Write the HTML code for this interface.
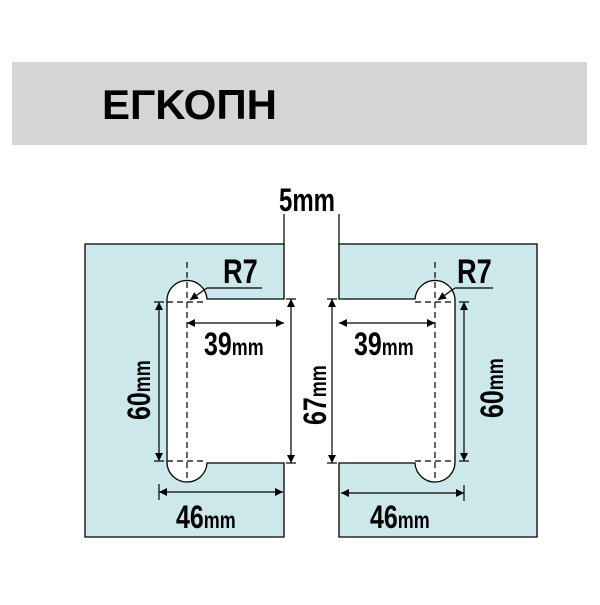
<!DOCTYPE html>
<html><head><meta charset="utf-8"><style>
body{margin:0;background:#fff}
svg text{font-family:"Liberation Sans",sans-serif;font-weight:bold;fill:#000}
</style></head><body>
<svg width="600" height="600" viewBox="0 0 600 600" xmlns="http://www.w3.org/2000/svg">
<defs>
<marker id="a" viewBox="0 0 10 10" refX="10" refY="5" markerWidth="12" markerHeight="8" orient="auto-start-reverse" markerUnits="userSpaceOnUse"><path d="M0,0 L10,5 L0,10z" fill="#000"/></marker>
</defs>
<rect x="12" y="62" width="575" height="83" fill="#d5d5d5"/>
<text x="102" y="119" font-size="42">ΕΓΚΟΠΗ</text>
<text x="0" y="0" font-size="32" transform="translate(279,211) scale(0.75,1)">5mm</text>
<g stroke="#000" stroke-width="1.3" fill="#cde8ea">
<path d="M85,244 H284 V299 H207 A20,20 0 0 0 167,302 V461 A20,20 0 0 0 207,463 H284 V537 H85 Z"/>
<path d="M537,244 H339 V299 H415 A20,20 0 0 1 455,302 V461 A20,20 0 0 1 415,463 H339 V537 H537 Z"/>
</g>
<g stroke="#000" stroke-width="1.2" fill="none">
<line x1="284" y1="214" x2="284" y2="244"/><line x1="339" y1="214" x2="339" y2="244"/>
<g stroke-dasharray="6,4">
<line x1="187" y1="262" x2="187" y2="482"/><line x1="167" y1="302" x2="207" y2="302"/><line x1="167" y1="461" x2="207" y2="461"/>
<line x1="435" y1="262" x2="435" y2="482"/><line x1="415" y1="302" x2="455" y2="302"/><line x1="415" y1="461" x2="455" y2="461"/>
</g>
<g marker-start="url(#a)" marker-end="url(#a)">
<line x1="159" y1="302" x2="159" y2="461"/>
<line x1="187" y1="323" x2="284" y2="323"/>
<line x1="291" y1="299" x2="291" y2="463"/>
<line x1="159" y1="492" x2="283" y2="492"/>
<line x1="332" y1="299" x2="332" y2="463"/>
<line x1="339" y1="323" x2="435" y2="323"/>
<line x1="464" y1="302" x2="464" y2="461"/>
<line x1="341" y1="493" x2="464" y2="493"/>
</g>
<line x1="154" y1="302" x2="164" y2="302"/><line x1="154" y1="461" x2="164" y2="461"/>
<line x1="286" y1="299" x2="296" y2="299"/><line x1="286" y1="463" x2="296" y2="463"/>
<line x1="327" y1="299" x2="337" y2="299"/><line x1="327" y1="463" x2="337" y2="463"/>
<line x1="459" y1="302" x2="469" y2="302"/><line x1="459" y1="461" x2="469" y2="461"/>
<line x1="159" y1="484" x2="159" y2="500"/><line x1="464" y1="485" x2="464" y2="501"/>
<polyline points="262,288 207,288"/><line x1="207" y1="288" x2="190" y2="300" marker-end="url(#a)"/>
<polyline points="493,288 455,288"/><line x1="455" y1="288" x2="438" y2="300" marker-end="url(#a)"/>
</g>
<text font-size="34" transform="translate(223,283) scale(0.8,1)">R7</text>
<text font-size="34" transform="translate(457,283) scale(0.8,1)">R7</text>
<g font-size="32">
<text transform="translate(204,355) scale(0.78,1)">39<tspan font-size="23">mm</tspan></text>
<text transform="translate(354,355) scale(0.78,1)">39<tspan font-size="23">mm</tspan></text>
<text transform="translate(176,528) scale(0.78,1)">46<tspan font-size="23">mm</tspan></text>
<text transform="translate(370,528) scale(0.78,1)">46<tspan font-size="23">mm</tspan></text>
<text transform="translate(150,420) rotate(-90) scale(0.78,1)">60<tspan font-size="23">mm</tspan></text>
<text transform="translate(503,418) rotate(-90) scale(0.78,1)">60<tspan font-size="23">mm</tspan></text>
<text transform="translate(326,425) rotate(-90) scale(0.78,1)">67<tspan font-size="23">mm</tspan></text>
</g>
</svg>
</body></html>
